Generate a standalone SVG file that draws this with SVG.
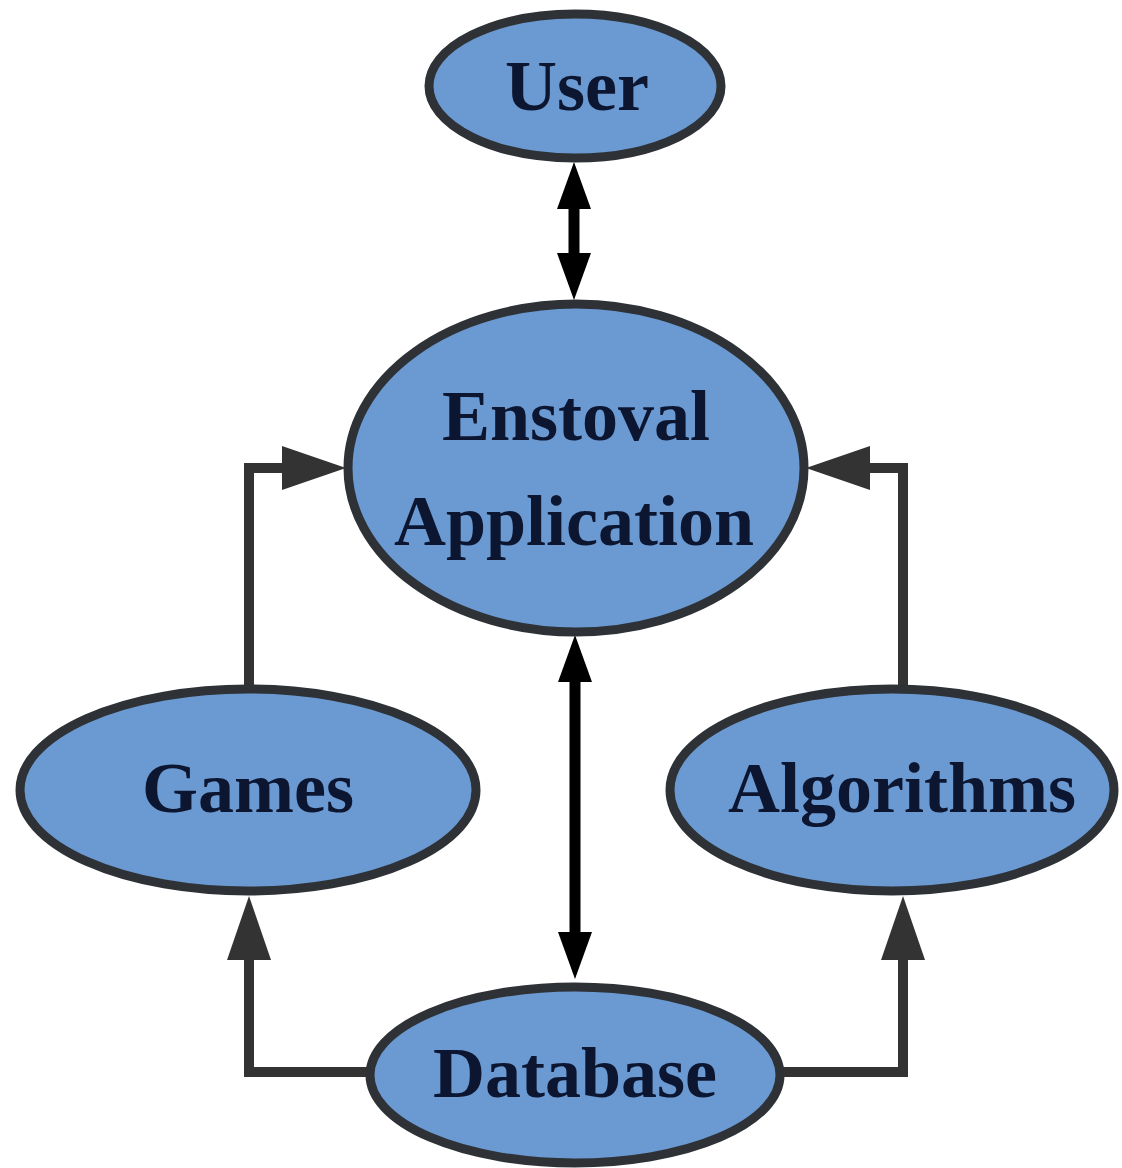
<svg xmlns="http://www.w3.org/2000/svg" width="1122" height="1168" viewBox="0 0 1122 1168">
<style>
.node ellipse{fill:#6b9ad2;stroke:#2e3236;stroke-width:9}
.node text{font-family:"Liberation Serif","Times New Roman",serif;font-weight:bold;font-size:72px;fill:#0c1630;text-anchor:middle}
.gray{fill:none;stroke:#333333;stroke-width:10}
.black{fill:none;stroke:#000000;stroke-width:11}
</style>
<defs>
<marker id="ag" markerUnits="userSpaceOnUse" viewBox="0 0 64 44" refX="0" refY="22" markerWidth="64" markerHeight="44" orient="auto" overflow="visible">
<path d="M0,0 L64,22 L0,44 Z" fill="#333333"/>
</marker>
<marker id="ab" markerUnits="userSpaceOnUse" viewBox="0 0 47 34" refX="0" refY="17" markerWidth="47" markerHeight="34" orient="auto-start-reverse" overflow="visible">
<path d="M0,0 L47,17 L0,34 Z" fill="#000000"/>
</marker>
</defs>
<rect width="1122" height="1168" fill="#ffffff"/>
<g id="connectors">
<line class="black" x1="574" y1="209" x2="574" y2="253" marker-start="url(#ab)" marker-end="url(#ab)"/>
<line class="black" x1="575" y1="682" x2="575" y2="932" marker-start="url(#ab)" marker-end="url(#ab)"/>
<path class="gray" d="M249,688 L249,468 L282,468" marker-end="url(#ag)"/>
<path class="gray" d="M903,688 L903,468 L870,468" marker-end="url(#ag)"/>
<path class="gray" d="M370,1072 L249,1072 L249,960" marker-end="url(#ag)"/>
<path class="gray" d="M781,1072 L903,1072 L903,960" marker-end="url(#ag)"/>
</g>
<g id="user" class="node">
<ellipse cx="575" cy="86" rx="146" ry="72"/>
<text x="577" y="110">User</text>
</g>
<g id="app" class="node">
<ellipse cx="576" cy="468" rx="228" ry="164"/>
<text x="576" y="440">Enstoval</text>
<text x="574" y="545">Application</text>
</g>
<g id="games" class="node">
<ellipse cx="248" cy="790" rx="228" ry="101"/>
<text x="248" y="812">Games</text>
</g>
<g id="algorithms" class="node">
<ellipse cx="892" cy="790" rx="222" ry="101"/>
<text x="902" y="812">Algorithms</text>
</g>
<g id="database" class="node">
<ellipse cx="575" cy="1075" rx="205" ry="88"/>
<text x="575" y="1097">Database</text>
</g>
</svg>
